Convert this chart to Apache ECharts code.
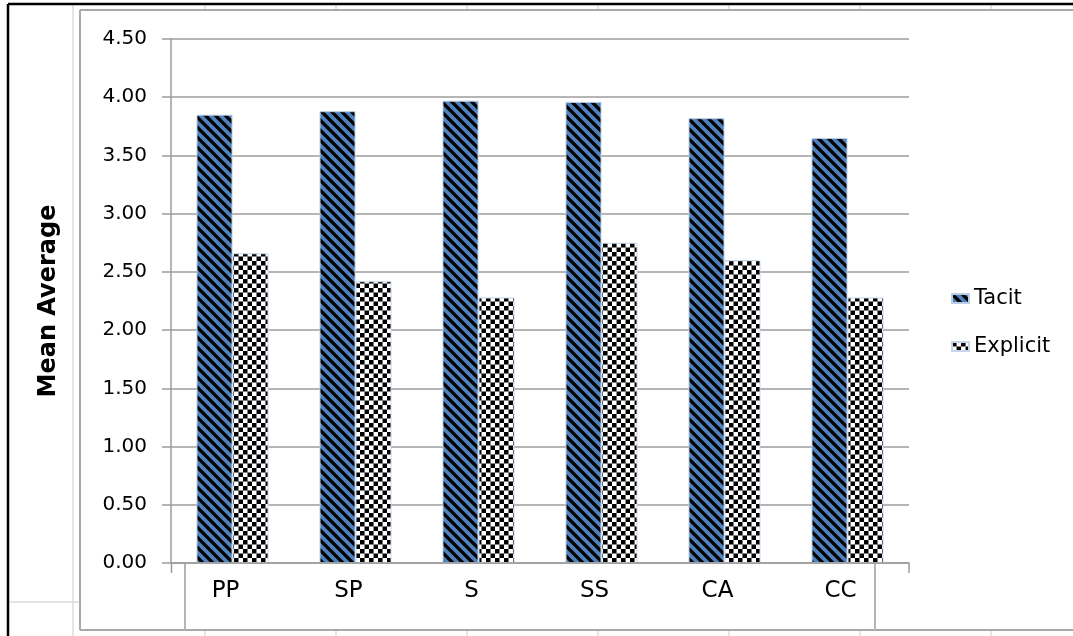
<!DOCTYPE html>
<html>
<head>
<meta charset="utf-8">
<script src="https://cdn.jsdelivr.net/npm/echarts@6/dist/echarts.min.js"></script>
<style>
html,body{margin:0;padding:0;background:#fff;}
#chart{width:1073px;height:636px;}
</style>
</head>
<body>
<div id="chart"></div>
<script>
const categories = ['PP', 'SP', 'S', 'SS', 'CA', 'CC'];
const tacit = [3.85, 3.88, 3.97, 3.96, 3.82, 3.65];
const explicit = [2.66, 2.42, 2.28, 2.75, 2.60, 2.28];
const seriesNames = ['Tacit', 'Explicit'];
const yMin = 0, yMax = 4.5, yStep = 0.5;

// pattern tiles drawn at 2x, scaled down by 0.5 in the pattern
function stripeTile() {
  const s = 20;
  const c = document.createElement('canvas');
  c.width = s; c.height = s;
  const g = c.getContext('2d');
  g.fillStyle = '#4F81BD';
  g.fillRect(0, 0, s, s);
  g.strokeStyle = '#000';
  g.lineWidth = 6.6;
  [-s, 0, s].forEach(function (k) {
    g.beginPath();
    g.moveTo(-4, k - 4);
    g.lineTo(s + 4, k + s + 4);
    g.stroke();
  });
  return c;
}
function checkerTile() {
  const s = 18, h = 9;
  const c = document.createElement('canvas');
  c.width = s; c.height = s;
  const g = c.getContext('2d');
  g.fillStyle = '#fff';
  g.fillRect(0, 0, s, s);
  g.fillStyle = '#000';
  g.fillRect(0, 0, h, h);
  g.fillRect(h, h, h, h);
  return c;
}

const chart = echarts.init(document.getElementById('chart'), null, {renderer: 'canvas'});
const font = 'DejaVu Sans';
const gray = '#9c9c9c';
const light = '#dcdcdc';

const graphics = [];
function line(x1, y1, x2, y2, color, w, z) {
  graphics.push({type: 'line', z: z || 0, silent: true,
    shape: {x1: x1, y1: y1, x2: x2, y2: y2},
    style: {stroke: color, lineWidth: w}});
}
// spreadsheet cell lines
line(73, 5, 73, 636, light, 1.5);
line(8, 602, 80, 602, light, 1.5);
[205, 336, 467, 598, 729, 860, 991].forEach(function (x) {
  line(x, 631, x, 636, light, 1.5);
  line(x, 5, x, 9, light, 1.5);
});
// chart frame
line(80, 10, 1073, 10, '#a8a8a8', 2);
line(80, 10, 80, 630, '#a8a8a8', 2);
line(80, 630, 1073, 630, '#a8a8a8', 2);
// black outer border
line(8, 4, 1073, 4, '#000', 2.5);
line(8, 4, 8, 636, '#000', 2.5);
// category label box
line(185, 563, 185, 630, '#b4b4b4', 2, 11);
line(875, 563, 875, 630, '#b4b4b4', 2, 11);
// end ticks of the category axis (inner ones are hidden by the label box)
line(171.5, 563, 171.5, 573, gray, 1.5, 11);
line(909, 563, 909, 573, gray, 1.5, 11);

chart.setOption({
  animation: false,
  backgroundColor: '#fff',
  textStyle: {fontFamily: font},
  graphic: graphics,
  grid: {left: 171, right: 164, top: 39, bottom: 73, containLabel: false},
  legend: {
    data: seriesNames,
    orient: 'vertical',
    left: 946,
    top: 283,
    itemWidth: 17,
    itemHeight: 9,
    itemGap: 27,
    icon: 'rect',
    z: 12,
    textStyle: {fontFamily: font, fontSize: 21, color: '#000'}
  },
  xAxis: {
    type: 'category',
    data: categories,
    z: 20,
    axisLine: {show: true, lineStyle: {color: gray, width: 1.5}},
    axisTick: {show: false},
    axisLabel: {fontFamily: font, fontSize: 23, color: '#000', margin: 17, padding: [0, 14, 0, 0]}
  },
  yAxis: {
    type: 'value',
    min: yMin, max: yMax, interval: yStep,
    name: 'Mean Average',
    nameLocation: 'middle',
    nameGap: 110,
    nameTextStyle: {fontFamily: font, fontSize: 24, fontWeight: 'bold', color: '#000'},
    axisLine: {show: true, lineStyle: {color: gray, width: 1.5}},
    axisTick: {show: true, length: 9, lineStyle: {color: gray, width: 1.5}},
    axisLabel: {fontFamily: font, fontSize: 20, color: '#000', margin: 24,
      formatter: function (v) { return v.toFixed(2); }},
    splitLine: {show: true, lineStyle: {color: gray, width: 1.5}}
  },
  series: [
    {
      name: seriesNames[0], type: 'bar', data: tacit,
      barWidth: 36, barGap: '0%',
      itemStyle: {color: {image: stripeTile(), repeat: 'repeat', scaleX: 0.5, scaleY: 0.5},
        borderColor: '#B9CDE5', borderWidth: 1}
    },
    {
      name: seriesNames[1], type: 'bar', data: explicit,
      barWidth: 36, barGap: '0%',
      itemStyle: {color: {image: checkerTile(), repeat: 'repeat', scaleX: 0.5, scaleY: 0.5},
        borderColor: '#C6D5EA', borderWidth: 1}
    }
  ]
});
</script>
</body>
</html>
